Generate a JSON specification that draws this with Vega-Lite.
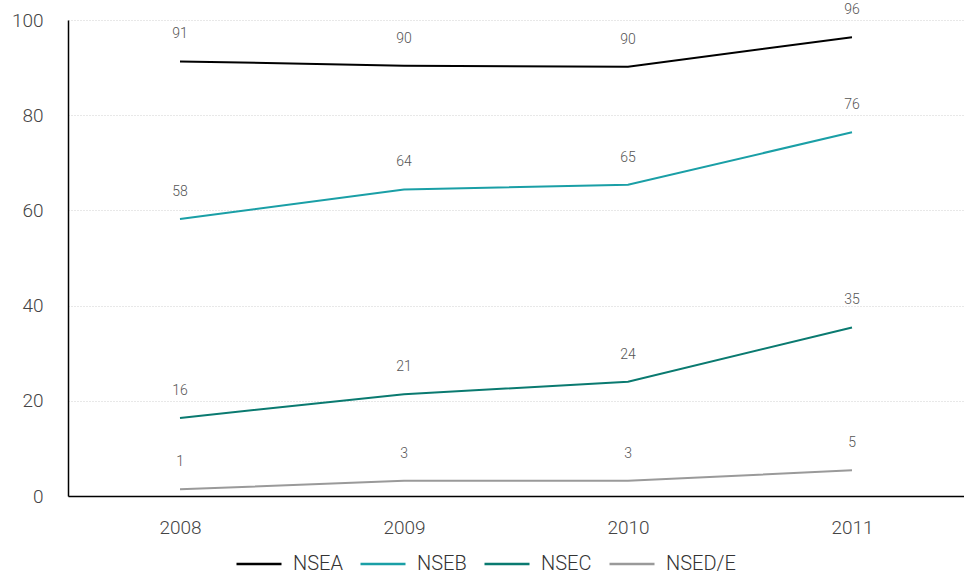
{
  "$schema": "https://vega.github.io/schema/vega-lite/v6.json",
  "width": 896,
  "height": 476,
  "autosize": {"type": "none"},
  "padding": {"left": 68, "top": 20, "right": 0, "bottom": 76},
  "background": "white",
  "config": {
    "font": "Roboto",
    "view": {"stroke": null}
  },
  "data": {
    "values": [
      {"year": "2008", "series": "NSEA", "value": 91.3},
      {"year": "2009", "series": "NSEA", "value": 90.4},
      {"year": "2010", "series": "NSEA", "value": 90.2},
      {"year": "2011", "series": "NSEA", "value": 96.4},
      {"year": "2008", "series": "NSEB", "value": 58.2},
      {"year": "2009", "series": "NSEB", "value": 64.4},
      {"year": "2010", "series": "NSEB", "value": 65.4},
      {"year": "2011", "series": "NSEB", "value": 76.4},
      {"year": "2008", "series": "NSEC", "value": 16.4},
      {"year": "2009", "series": "NSEC", "value": 21.4},
      {"year": "2010", "series": "NSEC", "value": 24.0},
      {"year": "2011", "series": "NSEC", "value": 35.4},
      {"year": "2008", "series": "NSED/E", "value": 1.4},
      {"year": "2009", "series": "NSED/E", "value": 3.2},
      {"year": "2010", "series": "NSED/E", "value": 3.2},
      {"year": "2011", "series": "NSED/E", "value": 5.4}
    ]
  },
  "encoding": {
    "x": {
      "field": "year",
      "type": "ordinal",
      "scale": {"type": "point", "padding": 0.5},
      "axis": {
        "title": null,
        "labelAngle": 0,
        "labelFontSize": 19,
        "labelFontWeight": 300,
        "labelColor": "#444444",
        "labelPadding": 22,
        "ticks": false,
        "domainColor": "#000000",
        "domainWidth": 1.5,
        "grid": false
      }
    },
    "y": {
      "field": "value",
      "type": "quantitative",
      "scale": {"domain": [0, 100], "nice": false},
      "axis": {
        "title": null,
        "values": [0, 20, 40, 60, 80, 100],
        "labelFontSize": 19,
        "labelFontWeight": 300,
        "labelColor": "#444444",
        "labelPadding": 25,
        "ticks": false,
        "domainColor": "#000000",
        "domainWidth": 1.5,
        "grid": true,
        "gridColor": "#d0d0d0",
        "gridDash": [1, 2],
        "gridWidth": 1
      }
    },
    "color": {
      "field": "series",
      "type": "nominal",
      "scale": {
        "domain": ["NSEA", "NSEB", "NSEC", "NSED/E"],
        "range": ["#000000", "#1a9fa6", "#0a7a70", "#9a9a9a"]
      },
      "legend": {
        "title": null,
        "orient": "none",
        "direction": "horizontal",
        "legendX": 167,
        "legendY": 520,
        "symbolType": "stroke",
        "symbolSize": 2025,
        "symbolStrokeWidth": 2.5,
        "labelFontSize": 20,
        "labelFontWeight": 300,
        "labelColor": "#333333",
        "labelOffset": 10,
        "columnPadding": 12
      }
    }
  },
  "layer": [
    {
      "mark": {"type": "line", "strokeWidth": 2}
    },
    {
      "mark": {"type": "text", "dy": -27, "fontSize": 14, "fontWeight": 300},
      "encoding": {
        "text": {"field": "value", "type": "quantitative", "format": ".0f"},
        "color": {"value": "#555555"}
      }
    }
  ]
}
